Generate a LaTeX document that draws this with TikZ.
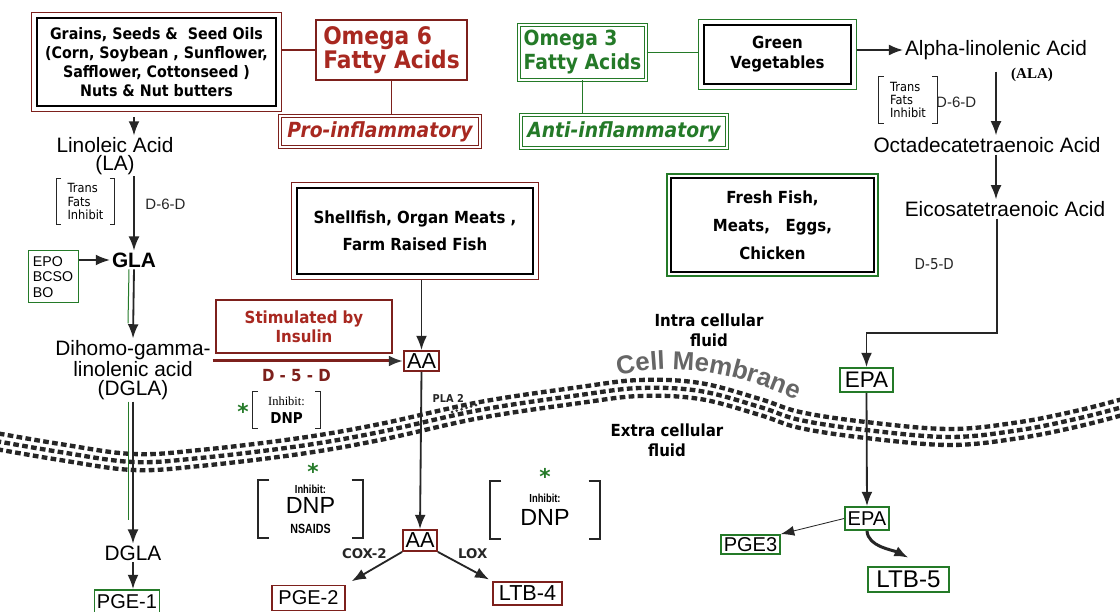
\documentclass[tikz,border=0pt]{standalone}
\usepackage{fontspec}
\setmainfont{Liberation Sans}
\newfontfamily\tahfont{DejaVu Sans}[FakeStretch=0.9]
\newfontfamily\verdfont{DejaVu Sans}
\newfontfamily\timesfont{Liberation Serif}
\newfontfamily\narrowfont{Liberation Sans}[FakeStretch=0.8]
\usepackage{tikz}
\usetikzlibrary{arrows.meta,positioning,fit,calc,decorations.text}

\definecolor{omegared}{RGB}{168,40,32}
\definecolor{boxred}{RGB}{125,32,28}
\definecolor{omegagreen}{RGB}{36,122,40}

\newcommand{\fsz}[2]{\fontsize{#1}{#2}\selectfont}
\newcommand{\inhbrackets}[3][]{%
  \draw[brk,#1] ([xshift=#3]#2.north west) -- (#2.north west) -- (#2.south west) -- ([xshift=#3]#2.south west);
  \draw[brk,#1] ([xshift=-#3]#2.north east) -- (#2.north east) -- (#2.south east) -- ([xshift=-#3]#2.south east);}

\begin{document}
\begin{tikzpicture}[
  x=0.6pt, y=-0.6pt,
  lab/.style={font=\fsz{12.5}{10.5}, align=center, inner sep=1pt},
  arr/.style={-{Latex[length=8.5pt,width=6.5pt]}, line width=1.1pt, black!85},
  thinarr/.style={-{Latex[length=8pt,width=6pt]}, line width=0.5pt, black!85},
  redarr/.style={-{Latex[length=8.5pt,width=6.5pt,color=black!80]}, line width=1.8pt, boxred},
  greenline/.style={omegagreen, line width=0.6pt},
  foodbox/.style={draw=black, line width=1.6pt, align=center, inner sep=2pt, font=\tahfont\bfseries\fsz{9.5}{11.4}},
  rim/.style={draw, line width=0.7pt, inner sep=2.4pt},
  omegabox/.style={align=left, inner sep=2pt},
  moodbox/.style={double, double distance=1.1pt, line width=0.6pt, inner sep=1pt, font=\tahfont\bfseries\itshape\fsz{12.5}{14}},
  tag/.style={draw, line width=1.1pt, inner sep=1pt, font=\fsz{12}{14}},
  brk/.style={line width=0.7pt, black!85},
  inh/.style={align=center, inner sep=0pt},
  lbl/.style={font=\verdfont\bfseries\fsz{8}{9}, inner sep=1pt},
  ast/.style={text=omegagreen, font=\verdfont\bfseries\fsz{13}{13}, inner sep=0pt},
  fluid/.style={align=center, font=\tahfont\bfseries\fsz{10}{12}},
  mrow/.style={line width=2.6pt, black!85, dash pattern=on 3.4pt off 2pt}
]
\fill[white, use as bounding box] (0,0) rectangle (1120,612);

\foreach \dy/\ph in {4.8pt/0pt, 0pt/2pt, -4.8pt/0.9pt}
  \draw[mrow, dash phase=\ph, yshift=\dy] plot[smooth, tension=0.6] coordinates {(-10,440) (60,452) (133,462) (200,458) (300,446) (380,432) (480,410) (580,395) (640,388) (700,391) (760,407) (800,420) (866,430) (950,437) (1020,430) (1080,418) (1130,405)};
\draw[line width=1.8pt, dash pattern=on 0pt off 3pt, line cap=round, black!80] (452,412) -- (480,404);
\begin{scope}[y=0.6pt]
\path[decorate, decoration={text along path, text align=center, text={|\bfseries\fsz{15.5}{16}\color{black!60}|Cell Membrane}}] (600,-381) .. controls (670,-358) and (735,-370) .. (814,-408);
\end{scope}

\node[foodbox, minimum width=143.4pt, minimum height=52.8pt] (grains) at (156.5,62) {Grains, Seeds \&\ \ Seed Oils\\(Corn, Soybean , Sunflower,\\Safflower, Cottonseed )\\Nuts \& Nut butters};
\node[rim, draw=boxred, fit=(grains)] (grainsrim) {};
\node[omegabox, draw=boxred, line width=1.4pt, text=omegared, font=\tahfont\bfseries\fsz{14.5}{14.4}, minimum width=90.6pt, minimum height=36pt] (omega6) at (391.5,50) {Omega 6\\Fatty Acids};
\node[moodbox, draw=boxred, text=omegared, minimum width=120pt, minimum height=18.6pt] (pro) at (380,131.5) {Pro-inflammatory};

\node[omegabox, draw=omegagreen, double, double distance=1.1pt, line width=0.6pt, text=omegagreen, font=\tahfont\bfseries\fsz{12.5}{14.4}, minimum width=76.2pt, minimum height=33pt] (omega3) at (582.5,52.5) {Omega 3\\Fatty Acids};
\node[moodbox, draw=omegagreen, text=omegagreen, minimum width=123.6pt, minimum height=19.8pt] (anti) at (624,131.5) {Anti-inflammatory};
\node[foodbox, minimum width=88.2pt, minimum height=35.4pt, font=\tahfont\bfseries\fsz{10}{12}] (greenveg) at (777.5,54.5) {Green\\Vegetables};
\node[rim, draw=omegagreen, fit=(greenveg)] (greenvegrim) {};

\node[foodbox, minimum width=141.6pt, minimum height=51.6pt, font=\tahfont\bfseries\fsz{10}{16.2}] (shell) at (415,231) {Shellfish, Organ Meats ,\\Farm Raised Fish};
\node[rim, draw=boxred, fit=(shell)] (shellrim) {};
\node[foodbox, line width=0.9pt, minimum width=121.8pt, minimum height=56.4pt, font=\tahfont\bfseries\fsz{10}{16.8}] (freshfish) at (772.5,225) {Fresh Fish,\\Meats,\ \ \ Eggs,\\Chicken};
\node[rim, draw=omegagreen, line width=1.5pt, inner sep=2pt, fit=(freshfish)] (freshfishrim) {};
\node[draw=boxred, line width=1.3pt, align=center, text=omegared, font=\tahfont\bfseries\fsz{10}{11.4}, minimum width=105.6pt, minimum height=31.8pt] (insulin) at (304,326.5) {Stimulated by\\Insulin};

\node[lab] (la) at (115,156) {Linoleic Acid\\(LA)};
\node[inh, align=left, font=\tahfont\fsz{7.6}{8}, minimum width=34.8pt, minimum height=27.6pt] (tfleft) at (85.5,201.5) {Trans\\Fats\\Inhibit};
\node[lab, font=\bfseries\fsz{12.5}{14}] (gla) at (134,260) {GLA};
\node[draw=omegagreen, line width=0.6pt, align=left, font=\fsz{8.5}{9.3}, minimum width=30pt, minimum height=31.2pt, inner sep=2pt] (epo) at (53,277) {EPO\\BCSO\\BO};
\node[lab, font=\fsz{12.5}{11.2}] (dihomo) at (133,370) {Dihomo-gamma-\\linolenic acid\\(DGLA)};
\node[lab] (dgla) at (133,553) {DGLA};
\node[tag, draw=omegagreen, minimum width=39pt, minimum height=14.4pt] (pge1) at (127,602) {PGE-1};

\node[tag, draw=boxred, font=\fsz{13}{14}, minimum width=21pt, minimum height=12pt] (aa1) at (421.5,361) {AA};
\node[ast] (astmid) at (243,411) {*};
\node[inh, font=\tahfont\bfseries\fsz{9}{10.8}, minimum width=40.2pt, minimum height=21.6pt] (dnpmid) at (286.5,410) {{\timesfont\mdseries\fsz{7.5}{8}Inhibit:}\\DNP};
\node[tag, draw=boxred, font=\fsz{13}{14}, minimum width=20.4pt, minimum height=12.6pt] (aa2) at (420,540.5) {AA};
\node[ast] (astcox) at (313,471) {*};
\node[inh, font=\fsz{14}{12}, minimum width=63pt, minimum height=34.8pt] (dnpcox) at (310.5,509) {{\narrowfont\bfseries\fsz{7}{8}Inhibit:}\\DNP\\{\narrowfont\bfseries\fsz{8}{9}NSAIDS}};
\node[ast] (astlox) at (545,476) {*};
\node[inh, font=\fsz{14}{13.8}, minimum width=66pt, minimum height=34.8pt] (dnplox) at (545,510) {{\narrowfont\bfseries\fsz{7}{8}Inhibit:}\\DNP};
\node[tag, draw=boxred, minimum width=43.8pt, minimum height=15pt] (pge2) at (308.5,598) {PGE-2};
\node[tag, draw=boxred, font=\fsz{13}{14}, minimum width=41.4pt, minimum height=13.8pt] (ltb4) at (527.5,593.5) {LTB-4};

\node[lab] (ala) at (996,50) {Alpha-linolenic Acid};
\node[font=\timesfont\bfseries\fsz{9}{10}] (alaabbr) at (1032,75) {(ALA)};
\node[inh, align=left, font=\tahfont\fsz{7.6}{8}, minimum width=34.8pt, minimum height=27.6pt] (tfright) at (908,100) {Trans\\Fats\\Inhibit};
\node[lab] (octa) at (987,145) {Octadecatetraenoic Acid};
\node[lab] (eico) at (1005,209) {Eicosatetraenoic Acid};
\coordinate (bend) at (997,333);
\node[tag, draw=omegagreen, font=\fsz{13.5}{14}, minimum width=31.8pt, minimum height=14.4pt] (epa1) at (866.5,380) {EPA};
\node[tag, draw=omegagreen, minimum width=26.4pt, minimum height=13.8pt] (epa2) at (867,518.5) {EPA};
\node[tag, draw=omegagreen, minimum width=35.4pt, minimum height=11.4pt] (pge3) at (750.5,544.5) {PGE3};
\node[tag, draw=omegagreen, font=\fsz{14.5}{15}, minimum width=48.6pt, minimum height=15pt] (ltb5) at (908.5,579.5) {LTB-5};

\node[fluid] (intra) at (709,330) {Intra cellular\\fluid};
\node[fluid] (extra) at (667,440) {Extra cellular\\fluid};

\draw[boxred, line width=0.8pt] (grainsrim.east |- omega6) -- (omega6.west);
\draw[boxred, line width=0.8pt] (omega6.south) -- (omega6.south |- pro.north);
\draw[omegagreen, line width=0.8pt] (omega3.east) -- (omega3.east -| greenvegrim.west);
\draw[omegagreen, line width=0.8pt] (omega3.south) -- (omega3.south |- anti.north);

\draw[arr, shorten <=3pt] (gla |- grainsrim.south) -- (gla |- la.north);
\draw[arr] (gla |- la.south) -- node[pos=0.38, right=3pt, font=\fsz{9}{10}] (d6dleft) {D-6-D} (gla.north);
\draw[arr] (epo.east |- gla.west) -- (gla.west);
\draw[arr] (gla.south) -- (dihomo.north);
\draw[greenline] ([xshift=-3pt]gla.south) -- ([xshift=-3pt,yshift=9pt]dihomo.north);
\draw[arr] (dihomo.south) -- (dgla.north);
\draw[greenline] ([xshift=-3pt]dihomo.south) -- ([xshift=-3pt,yshift=14pt]dgla.north);
\draw[arr] (dgla.south) -- (dgla.south |- pge1.north);

\draw[redarr] (aa1.west -| dihomo.east) -- node[pos=0.44, below=1pt, font=\tahfont\bfseries\fsz{10}{11}] (d5dleft) {D - 5 - D} (aa1.west);
\draw[arr] (shellrim.south -| aa1) -- (aa1.north);
\draw[arr] (aa1.south) -- node[pos=0.17, right=3pt, font=\tahfont\bfseries\fsz{6.5}{7}] (pla) {PLA 2} (aa2.north);
\draw[arr, shorten >=4pt] (aa2.south west) -- node[lbl, pos=0.05, left=6pt] (cox) {COX-2} (pge2.north east);
\draw[arr, shorten >=2pt] (aa2.south east) -- node[lbl, pos=0.05, right=9pt] (lox) {LOX} (ltb4.north west);

\draw[arr] (greenvegrim.east |- ala) -- (ala.west);
\draw[arr, shorten <=6pt] (ala.south) -- node[pos=0.55, left=8pt, font=\fsz{9}{10}] (d6dright) {D-6-D} (ala.south |- octa.north);
\draw[arr] (octa.south -| ala.south) -- (ala.south |- eico.north);
\draw[arr] (eico.south -| bend) -- node[pos=0.4, left=22pt, font=\tahfont\fsz{9}{10}] (d5dright) {D-5-D} (bend) -| (epa1.north);
\draw[arr] (epa1.south) -- (epa2.north);
\draw[thinarr] (epa2.west) -- (pge3.north east);
\draw[arr, line width=1.8pt] (epa2.south) .. controls +(1,16) and +(-16,-8) .. ([yshift=5pt]ltb5.north);

\inhbrackets{tfleft}{3pt}
\inhbrackets{tfright}{3pt}
\inhbrackets{dnpmid}{3pt}
\inhbrackets[line width=1.3pt]{dnpcox}{7pt}
\inhbrackets[line width=1.3pt]{dnplox}{7pt}
\end{tikzpicture}
\end{document}
